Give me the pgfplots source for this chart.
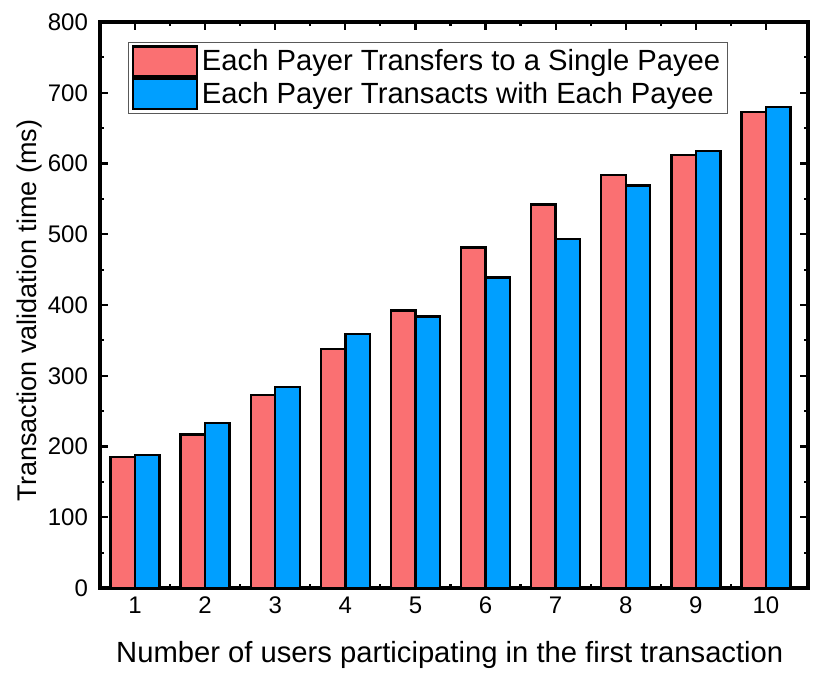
\documentclass[border=0pt]{standalone}
\usepackage{fontspec}
\setmainfont{Liberation Sans}
\usepackage{pgfplots}
\pgfplotsset{compat=1.18}
\definecolor{cpink}{RGB}{250,112,114}
\definecolor{cblue}{RGB}{0,159,255}
\begin{document}
\begin{tikzpicture}
\begin{axis}[
  scale only axis,
  width=354pt, height=283pt,
  ybar=0pt, bar width=0.35,
  xmin=0.5, xmax=10.6,
  ymin=0, ymax=800,
  xtick={1,...,10},
  ytick={0,100,...,800},
  minor x tick num=1,
  minor y tick num=1,
  tick align=inside,
  major tick length=4pt,
  minor tick length=2.2pt,
  tick style={line width=1.1pt, black},
  axis line style={line width=1.65pt},
  tick label style={font=\fontsize{12}{14}\selectfont},
  yticklabel style={xshift=-2.5pt},
  xticklabel style={yshift=-1pt},
  /pgf/number format/assume math mode=true,
  xlabel={Number of users participating in the first transaction},
  ylabel={Transaction validation time (ms)},
  xlabel style={font=\fontsize{14.6}{16}\selectfont, at={(axis description cs:0.494,-0.119)}, anchor=center},
  ylabel style={font=\fontsize{13.5}{15}\selectfont, at={(axis description cs:-0.0989,0.49)}, anchor=center},
  legend cell align=left,
  legend style={at={(axis description cs:0.0395,0.965)}, anchor=north west, draw=gray!70!black, line width=0.6pt,
    font=\fontsize{14.6}{16}\selectfont, inner sep=1.5pt, row sep=0pt},
  legend image code/.code={\draw[#1, line width=1.2pt] (0pt,-7.5pt) rectangle (32pt,7.5pt);},
]
\addplot[fill=cpink, draw=black, line width=1.2pt] coordinates {
(1,185) (2,217) (3,273) (4,338) (5,392) (6,481) (7,542) (8,584) (9,612) (10,673)};
\addplot[fill=cblue, draw=black, line width=1.2pt] coordinates {
(1,188) (2,233) (3,284) (4,359) (5,384) (6,439) (7,493) (8,569) (9,618) (10,680)};
\legend{Each Payer Transfers to a Single Payee, Each Payer Transacts with Each Payee}
\end{axis}
\pgfresetboundingbox
\path ([xshift=-50pt,yshift=-45pt]current axis.south west) rectangle ([xshift=11pt,yshift=11pt]current axis.north east);
\end{tikzpicture}
\end{document}
